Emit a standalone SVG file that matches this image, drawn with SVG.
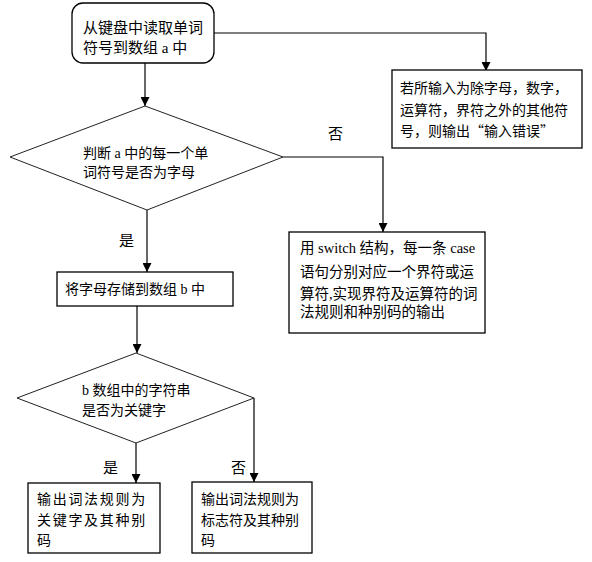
<svg xmlns="http://www.w3.org/2000/svg" width="592" height="562" viewBox="0 0 592 562">
<style>
.bg{fill:#fff}
.box{fill:#fff;stroke:#000;stroke-width:1.3}
.dia{fill:#fff;stroke:#222;stroke-width:1}
.con{fill:none;stroke:#000;stroke-width:1.2}
text{font-family:"Liberation Serif","Noto Sans CJK SC",serif;font-size:14px;fill:#000}
.lbl{font-size:15px}
.cjk{font-family:"Noto Sans CJK SC",sans-serif}
</style>
<defs>
<marker id="ah" markerUnits="userSpaceOnUse" markerWidth="9" markerHeight="9" refX="9" refY="4.5" orient="auto">
<path d="M0,0 L9,4.5 L0,9 z" fill="#000"/>
</marker>
</defs>
<rect class="bg" x="0" y="0" width="592" height="562"/>
<g id="connectors">
<path class="con" d="M145,63 V106" marker-end="url(#ah)"/>
<path class="con" d="M214,33 H486 V71" marker-end="url(#ah)"/>
<path class="con" d="M283,157 H383 V232" marker-end="url(#ah)"/>
<path class="con" d="M147,210 V272" marker-end="url(#ah)"/>
<path class="con" d="M137,306 V353" marker-end="url(#ah)"/>
<path class="con" d="M136,443 V483" marker-end="url(#ah)"/>
<path class="con" d="M254,398 V482" marker-end="url(#ah)"/>
<text class="lbl" x="328" y="139">否</text>
<text class="lbl" x="119" y="246">是</text>
<text class="lbl" x="103" y="473">是</text>
<text class="lbl" x="231" y="473">否</text>
</g>
<g id="n1">
<rect class="box" x="72" y="3" width="142" height="60" rx="11" ry="11" stroke-width="1.6"/>
<text x="83" y="33" style="font-size:15px">从键盘中读取单词</text>
<text x="83" y="53" style="font-size:15px">符号到数组 a 中</text>
</g>
<g id="n2">
<rect class="box" x="392" y="70" width="190" height="78"/>
<text x="400" y="93">若所输入为除字母，数字，</text>
<text x="400" y="115">运算符，界符之外的其他符</text>
<text x="400" y="136">号，则输出<tspan class="cjk">“</tspan>输入错误<tspan class="cjk">”</tspan></text>
</g>
<g id="n3">
<polygon class="dia" points="145,106 283,157 147,210 10,157"/>
<text x="83" y="158">判断 a 中的每一个单</text>
<text x="83" y="177">词符号是否为字母</text>
</g>
<g id="n4">
<rect class="box" x="289" y="232" width="196" height="101"/>
<text x="300" y="253" style="font-size:14.5px">用 switch 结构，每一条 case</text>
<text x="300" y="277" style="font-size:14.5px">语句分别对应一个界符或运</text>
<text x="300" y="299" style="font-size:14.5px">算符,实现界符及运算符的词</text>
<text x="300" y="317" style="font-size:14.5px">法规则和种别码的输出</text>
</g>
<g id="n5">
<rect class="box" x="57" y="272" width="176" height="34"/>
<text x="65" y="294">将字母存储到数组 b 中</text>
</g>
<g id="n6">
<polygon class="dia" points="136,353 254,398 136,443 17,398"/>
<text x="82" y="395">b 数组中的字符串</text>
<text x="82" y="415">是否为关键字</text>
</g>
<g id="n7">
<rect class="box" x="28" y="483" width="132" height="70"/>
<text x="37" y="504" letter-spacing="1.7">输出词法规则为</text>
<text x="37" y="525" letter-spacing="1.7">关键字及其种别</text>
<text x="37" y="545">码</text>
</g>
<g id="n8">
<rect class="box" x="192" y="482" width="120" height="71"/>
<text x="201" y="504">输出词法规则为</text>
<text x="201" y="525">标志符及其种别</text>
<text x="201" y="545">码</text>
</g>
</svg>
